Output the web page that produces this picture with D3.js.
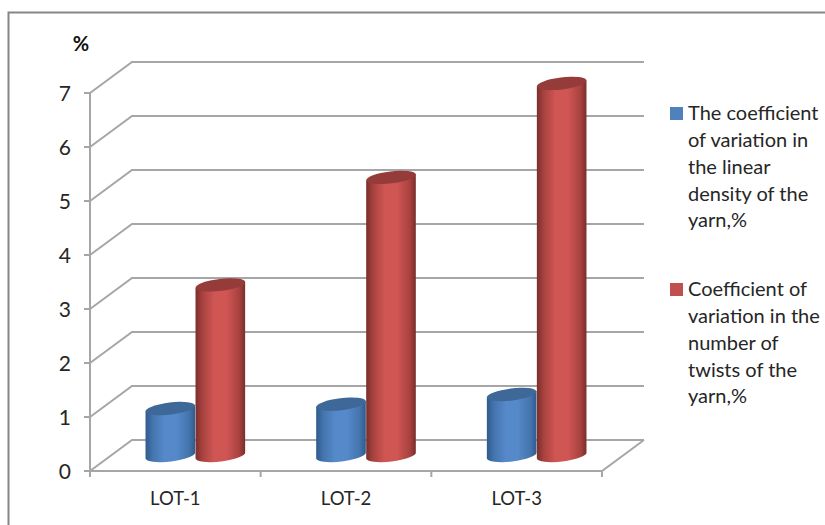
<!DOCTYPE html>
<html>
<head>
<meta charset="utf-8">
<script src="https://cdn.jsdelivr.net/npm/d3@7/dist/d3.min.js"></script>
<style>
  html, body { margin: 0; padding: 0; background: #fff; }
  svg { display: block; }
  text { font-family: Lato, "Open Sans", sans-serif; fill: #262626; }
</style>
</head>
<body>
<svg id="chart" width="825" height="525"></svg>
<script>
const categories = ["LOT-1", "LOT-2", "LOT-3"];
const linearDensityCV = [0.87, 0.95, 1.13];
const twistCV = [3.16, 5.15, 6.89];
const yTicks = [0, 1, 2, 3, 4, 5, 6, 7];
const legendLinesA = ["The coefficient", "of variation in", "the linear", "density of the", "yarn,%"];
const legendLinesB = ["Coefficient of", "variation in the", "number of", "twists of the", "yarn,%"];
const palette = {
  blue: { swatch: "#4f81bd", edge: "#2f5a8c", shoulder: "#4474ad", mid: "#5589c9", cap: "#3d6898" },
  red: { swatch: "#c0504d", edge: "#7a2e2c", shoulder: "#a8423f", mid: "#d05654", cap: "#953c3a" }
};

const svg = d3.select("#chart");
const gridColor = "#a6a6a6";

// Plot frame: front wall runs 90..602, the back wall is shifted by the depth vector.
const depth = { x: 42, y: -31 };
const x = d3.scaleBand().domain(categories).range([90, 602]);
const y = d3.scaleLinear().domain([0, 7]).range([471, 93]);
const series = d3.scaleBand().domain(["a", "b"]).range([-50, 50]);

// Outer chart border, running off the top right and bottom left of the page.
svg.append("path")
  .attr("d", "M8.5,530V12.5H830")
  .attr("fill", "none")
  .attr("stroke", "#868686")
  .attr("stroke-width", 2);

// Back-wall gridlines with their slanted returns along the side wall.
const grid = svg.append("g").attr("fill", "none").attr("stroke", gridColor).attr("stroke-width", 2);
yTicks.forEach(t => {
  const v = y(t);
  grid.append("path").attr("d", d3.line()([
    [x.range()[0], v],
    [x.range()[0] + depth.x, v + depth.y],
    [x.range()[1] + depth.x, v + depth.y]
  ]));
});

// Right-hand edge of the floor and the front edge.
grid.append("path").attr("d", d3.line()([
  [x.range()[1] + depth.x, y(0) + depth.y],
  [x.range()[1], y(0)],
  [x.range()[0], y(0)]
]));

// Value axis with outward ticks.
const axisG = svg.append("g").attr("stroke", gridColor).attr("stroke-width", 2).attr("fill", "none");
axisG.append("line").attr("x1", 90).attr("x2", 90).attr("y1", y(7)).attr("y2", y(0) + 6);
yTicks.forEach(t => {
  axisG.append("line").attr("x1", 84).attr("x2", 91).attr("y1", y(t)).attr("y2", y(t));
});

// Category axis tick marks sit on band boundaries.
[...categories.map(c => x(c)), x.range()[1]].forEach(px => {
  axisG.append("line").attr("x1", px).attr("x2", px).attr("y1", y(0)).attr("y2", y(0) + 6);
});

// Horizontal shading gradients for the cylinder bodies.
const defs = svg.append("defs");
Object.entries(palette).forEach(([name, c]) => {
  const g = defs.append("linearGradient").attr("id", "body-" + name);
  [[0, c.edge], [0.14, c.shoulder], [0.38, c.mid], [0.62, c.mid], [0.88, c.shoulder], [1, c.edge]].forEach(([o, col]) => {
    g.append("stop").attr("offset", o).attr("stop-color", col);
  });
});

const rx = series.bandwidth() / 2;
const ry = 6;
const tilt = -7;
const baseOffset = depth.y / 2;
const barShift = 20;
const cylinders = svg.append("g");

// Tilted ellipse end points, so the cylinder walls meet each cap at its extreme.
const dx = rx * Math.cos(tilt * Math.PI / 180);
const dy = rx * Math.sin(tilt * Math.PI / 180);

function cylinder(cx, value, c, name) {
  const yTop = y(value) + baseOffset;
  const yBase = y(0) + baseOffset;
  cylinders.append("path")
    .attr("d", `M${cx - dx},${yTop - dy}L${cx + dx},${yTop + dy}L${cx + dx},${yBase + dy}` +
      `A${rx},${ry} ${tilt} 0 1 ${cx - dx},${yBase - dy}Z`)
    .attr("fill", `url(#body-${name})`);
  cylinders.append("ellipse")
    .attr("rx", rx).attr("ry", ry)
    .attr("transform", `translate(${cx},${yTop}) rotate(${tilt})`)
    .attr("fill", c.cap);
}

categories.forEach((cat, i) => {
  const centre = x(cat) + x.bandwidth() / 2 + barShift;
  cylinder(centre + series("a") + rx, linearDensityCV[i], palette.blue, "blue");
  cylinder(centre + series("b") + rx, twistCV[i], palette.red, "red");
});

// Value labels and unit.
svg.append("g").selectAll("text").data(yTicks).join("text")
  .attr("x", 71).attr("y", d => y(d)).attr("dy", "0.36em")
  .attr("text-anchor", "end").attr("font-size", 21).text(d => d);

svg.append("text").attr("x", 81).attr("y", 51)
  .attr("text-anchor", "middle").attr("font-size", 20).attr("font-weight", 700)
  .style("fill", "#111").text("%");

// Category labels.
svg.append("g").selectAll("text").data(categories).join("text")
  .attr("x", d => x(d) + x.bandwidth() / 2).attr("y", 505)
  .attr("text-anchor", "middle").attr("font-size", 18.5).text(d => d);

// Legend.
function legend(lines, top, color) {
  svg.append("rect").attr("x", 670).attr("y", top - 6).attr("width", 13).attr("height", 13).attr("fill", color);
  svg.append("g").selectAll("text").data(lines).join("text")
    .attr("x", 688).attr("y", (d, i) => top + i * 26.8).attr("dy", "0.36em")
    .attr("font-size", 20).text(d => d);
}
legend(legendLinesA, 113, palette.blue.swatch);
legend(legendLinesB, 289, palette.red.swatch);
</script>
</body>
</html>
